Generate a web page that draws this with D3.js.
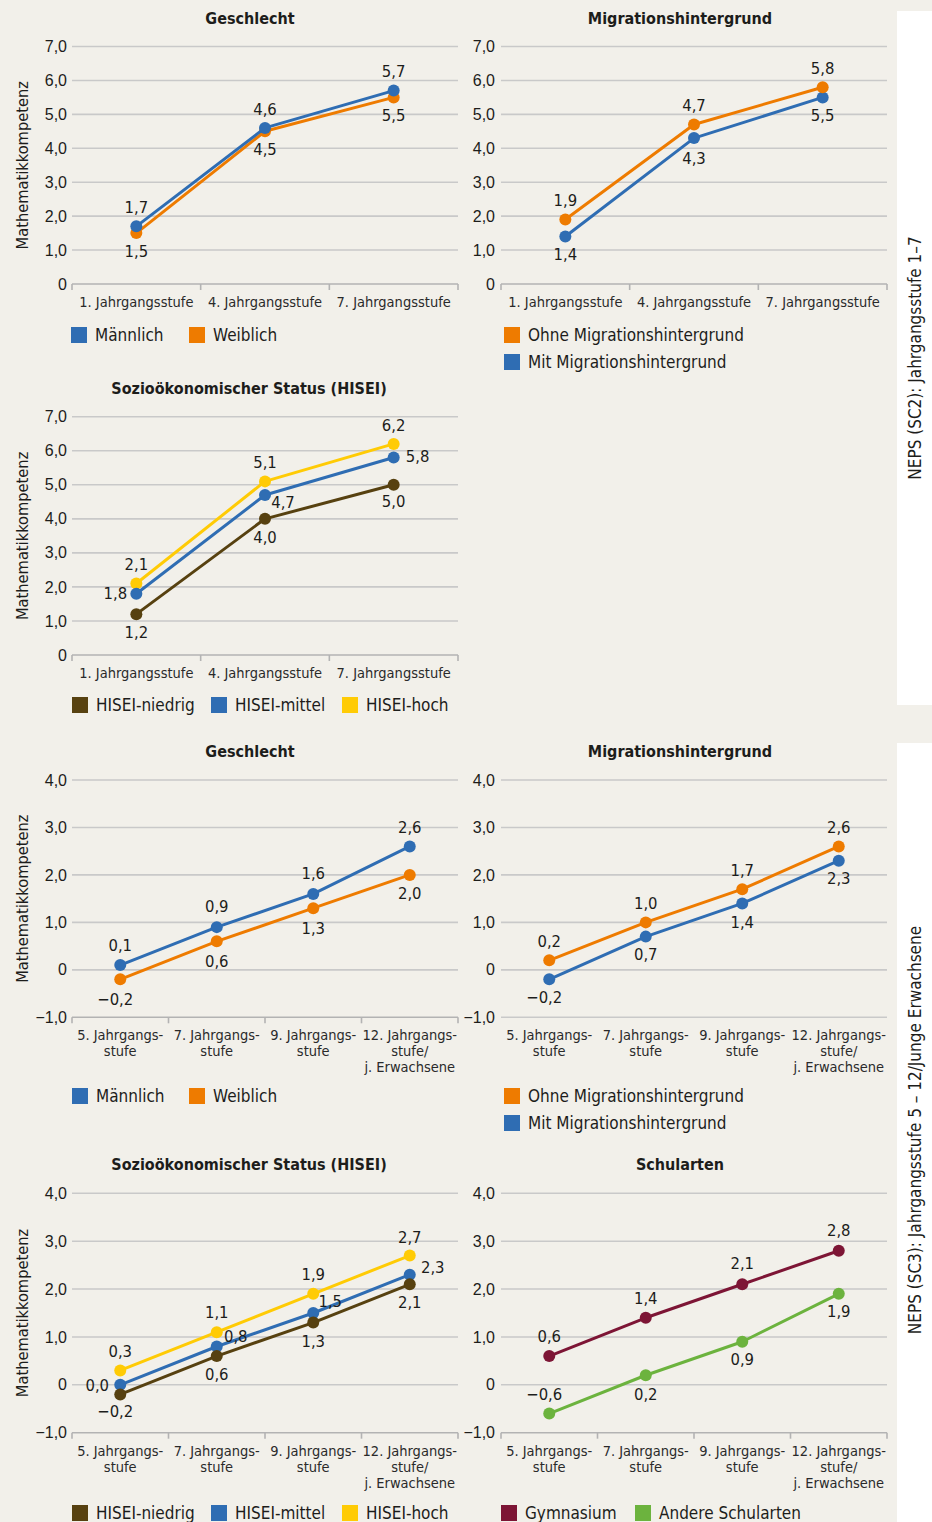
<!DOCTYPE html>
<html>
<head>
<meta charset="utf-8">
<script src="https://cdn.jsdelivr.net/npm/d3@7"></script>
<style>
  body { margin: 0; background: #f2f0ea; }
  svg { display: block; font-family: "Liberation Sans Narrow", "DejaVu Sans Condensed", "Roboto", sans-serif; }
</style>
</head>
<body>
<svg id="chart" width="932" height="1522"></svg>
<script>
// ---- categories and axis ticks ----
const gradesSC2 = ["1. Jahrgangsstufe", "4. Jahrgangsstufe", "7. Jahrgangsstufe"];
const gradesSC3 = [["5. Jahrgangs-", "stufe"], ["7. Jahrgangs-", "stufe"], ["9. Jahrgangs-", "stufe"], ["12. Jahrgangs-", "stufe/", "j. Erwachsene"]];
const ticksSC2 = [0, 1, 2, 3, 4, 5, 6, 7];
const ticksSC3 = [-1, 0, 1, 2, 3, 4];

// ---- series values: NEPS SC2 (Jahrgangsstufe 1–7) ----
const sc2Maennlich = [1.7, 4.6, 5.7];
const sc2Weiblich = [1.5, 4.5, 5.5];
const sc2OhneMig = [1.9, 4.7, 5.8];
const sc2MitMig = [1.4, 4.3, 5.5];
const sc2Niedrig = [1.2, 4.0, 5.0];
const sc2Mittel = [1.8, 4.7, 5.8];
const sc2Hoch = [2.1, 5.1, 6.2];

// ---- series values: NEPS SC3 (Jahrgangsstufe 5 – 12/Junge Erwachsene) ----
const sc3Maennlich = [0.1, 0.9, 1.6, 2.6];
const sc3Weiblich = [-0.2, 0.6, 1.3, 2.0];
const sc3OhneMig = [0.2, 1.0, 1.7, 2.6];
const sc3MitMig = [-0.2, 0.7, 1.4, 2.3];
const sc3Niedrig = [-0.2, 0.6, 1.3, 2.1];
const sc3Mittel = [0.0, 0.8, 1.5, 2.3];
const sc3Hoch = [0.3, 1.1, 1.9, 2.7];
const sc3Gymnasium = [0.6, 1.4, 2.1, 2.8];
const sc3Andere = [-0.6, 0.2, 0.9, 1.9];

// ---- colours ----
const C = {
  blue: "#2f6db3", orange: "#ee7b00", brown: "#574110", yellow: "#ffcb05",
  crimson: "#7d1535", green: "#6cb33e",
  grid: "#c9c9c9", axis: "#b3b3b3", text: "#1d1d1b"
};

// label placement offsets (centre of label relative to the point)
const A = [0, -19], B = [0, 18];

const panels = [
  { title: "Geschlecht", tx: 250, ty: 18, x0: 72, x1: 458, y0: 46.5, y1: 284, domain: [0, 7], ticks: ticksSC2, cats: gradesSC2, axisTicks: true,
    series: [
      { name: "Männlich", values: sc2Maennlich, color: C.blue, labels: [A, A, A] },
      { name: "Weiblich", values: sc2Weiblich, color: C.orange, labels: [B, B, B] }],
    drawOrder: [1, 0], legend: [[71, 335], [189, 335]] },
  { title: "Migrationshintergrund", tx: 680, ty: 18, x0: 501, x1: 887, y0: 46.5, y1: 284, domain: [0, 7], ticks: ticksSC2, cats: gradesSC2, axisTicks: true,
    series: [
      { name: "Ohne Migrationshintergrund", values: sc2OhneMig, color: C.orange, labels: [A, A, A] },
      { name: "Mit Migrationshintergrund", values: sc2MitMig, color: C.blue, labels: [B, [0, 20], B] }],
    drawOrder: [1, 0], legend: [[504, 335], [504, 362]] },
  { title: "Sozioökonomischer Status (HISEI)", tx: 249, ty: 388, x0: 72, x1: 458, y0: 416.7, y1: 655, domain: [0, 7], ticks: ticksSC2, cats: gradesSC2, axisTicks: true,
    series: [
      { name: "HISEI-niedrig", values: sc2Niedrig, color: C.brown, labels: [B, B, [0, 16]] },
      { name: "HISEI-mittel", values: sc2Mittel, color: C.blue, labels: [[-21, 0], [18, 7], [24, -1]] },
      { name: "HISEI-hoch", values: sc2Hoch, color: C.yellow, labels: [A, A, A] }],
    drawOrder: [2, 1, 0], legend: [[72, 705], [211, 705], [342, 705]] },
  { title: "Geschlecht", tx: 250, ty: 751, x0: 72, x1: 458, y0: 780, y1: 1017.3, domain: [-1, 4], ticks: ticksSC3, cats: gradesSC3, axisTicks: true,
    series: [
      { name: "Männlich", values: sc3Maennlich, color: C.blue, labels: [[0, -20], [0, -21], [0, -21], A] },
      { name: "Weiblich", values: sc3Weiblich, color: C.orange, labels: [[-5, 20], [0, 20], [0, 20], B] }],
    drawOrder: [1, 0], legend: [[72, 1096], [189, 1096]] },
  { title: "Migrationshintergrund", tx: 680, ty: 751, x0: 501, x1: 887, y0: 780, y1: 1017.3, domain: [-1, 4], ticks: ticksSC3, cats: gradesSC3, axisTicks: false,
    series: [
      { name: "Ohne Migrationshintergrund", values: sc3OhneMig, color: C.orange, labels: [A, A, A, A] },
      { name: "Mit Migrationshintergrund", values: sc3MitMig, color: C.blue, labels: [[-5, 18], B, [0, 19], B] }],
    drawOrder: [1, 0], legend: [[504, 1096], [504, 1123]] },
  { title: "Sozioökonomischer Status (HISEI)", tx: 249, ty: 1164, x0: 72, x1: 458, y0: 1193.3, y1: 1432.7, domain: [-1, 4], ticks: ticksSC3, cats: gradesSC3, axisTicks: true,
    series: [
      { name: "HISEI-niedrig", values: sc3Niedrig, color: C.brown, labels: [[-5, 17], B, [0, 19], B] },
      { name: "HISEI-mittel", values: sc3Mittel, color: C.blue, labels: [[-23, 0], [19, -10], [17, -12], [23, -7]] },
      { name: "HISEI-hoch", values: sc3Hoch, color: C.yellow, labels: [A, [0, -20], [0, -20], [0, -18]] }],
    drawOrder: [2, 1, 0], legend: [[72, 1513], [211, 1513], [342, 1513]] },
  { title: "Schularten", tx: 680, ty: 1164, x0: 501, x1: 887, y0: 1193.3, y1: 1432.7, domain: [-1, 4], ticks: ticksSC3, cats: gradesSC3, axisTicks: true,
    series: [
      { name: "Gymnasium", values: sc3Gymnasium, color: C.crimson, labels: [[0, -20], [0, -20], [0, -21], [0, -21]] },
      { name: "Andere Schularten", values: sc3Andere, color: C.green, labels: [[-5, -19], [0, 19], [0, 17], [0, 17]] }],
    drawOrder: [0, 1], legend: [[501, 1513], [635, 1513]] }
];

const svg = d3.select("#chart");

// side strips with study labels
const strips = [
  { y0: 11, y1: 705, cy: 358, text: "NEPS (SC2): Jahrgangsstufe 1–7" },
  { y0: 743, y1: 1522, cy: 1130, text: "NEPS (SC3): Jahrgangsstufe 5 – 12/Junge Erwachsene" }
];
strips.forEach(s => {
  svg.append("rect").attr("x", 897).attr("y", s.y0).attr("width", 35).attr("height", s.y1 - s.y0).attr("fill", "#ffffff");
  svg.append("text")
    .attr("transform", `translate(921,${s.cy}) rotate(-90)`)
    .attr("text-anchor", "middle")
    .attr("font-size", 17)
    .attr("fill", C.text)
    .text(s.text);
});

const fmtNum = v => {
  if (v === 0) return "0";
  const s = d3.format(".1f")(Math.abs(v)).replace(".", ",");
  return (v < 0 ? "−" : "") + s;
};
const fmtLabel = v => {
  const s = d3.format(".1f")(Math.abs(v)).replace(".", ",");
  return (v < 0 ? "−" : "") + s;
};

panels.forEach(p => {
  const g = svg.append("g");
  const n = p.cats.length;
  const x = d3.scaleBand().domain(d3.range(n)).range([p.x0, p.x1]).paddingInner(0).paddingOuter(0);
  const y = d3.scaleLinear().domain(p.domain).range([p.y1, p.y0]);

  // title
  g.append("text").attr("x", p.tx).attr("y", p.ty).attr("dy", "0.35em")
    .attr("text-anchor", "middle").attr("font-weight", "bold").attr("font-size", 16)
    .attr("fill", C.text).text(p.title);

  // y axis title
  g.append("text")
    .attr("transform", `translate(22,${(p.y0 + p.y1) / 2}) rotate(-90)`)
    .attr("dy", "0.35em")
    .attr("text-anchor", "middle").attr("font-size", 16.3).attr("fill", C.text)
    .text(p.x0 < 300 ? "Mathematikkompetenz" : "");

  // gridlines
  const minTick = p.ticks[0];
  g.append("g").selectAll("line").data(p.ticks.filter(t => t !== minTick || !p.axisTicks)).join("line")
    .attr("x1", p.x0).attr("x2", p.x1)
    .attr("y1", d => y(d)).attr("y2", d => y(d))
    .attr("stroke", C.grid).attr("stroke-width", 1.6);

  // y tick labels via axis
  const yAxis = d3.axisLeft(y).tickValues(p.ticks).tickFormat(fmtNum).tickSize(0).tickPadding(p.x0 < 300 ? 5 : 6);
  const ya = g.append("g").attr("transform", `translate(${p.x0},0)`).call(yAxis);
  ya.select(".domain").remove();
  ya.selectAll("text").attr("font-size", 16).attr("fill", C.text).attr("font-family", null);

  // bottom axis line with category separators
  if (p.axisTicks) {
    g.append("line").attr("x1", p.x0).attr("x2", p.x1)
      .attr("y1", y(minTick)).attr("y2", y(minTick))
      .attr("stroke", C.axis).attr("stroke-width", 1.6);
    const bounds = d3.range(n + 1).map(i => i < n ? x(i) : p.x1);
    g.append("g").selectAll("line").data(bounds).join("line")
      .attr("x1", d => d).attr("x2", d => d)
      .attr("y1", y(minTick)).attr("y2", y(minTick) + 6)
      .attr("stroke", C.axis).attr("stroke-width", 1.6);
  }

  // category labels
  const cl = g.append("g").selectAll("text").data(p.cats).join("text")
    .attr("x", (d, i) => x(i) + x.bandwidth() / 2)
    .attr("y", p.y1 + 23)
    .attr("text-anchor", "middle").attr("font-size", 14.5).attr("fill", "#2a2a2a");
  cl.each(function (d) {
    const lines = Array.isArray(d) ? d : [d];
    const t = d3.select(this);
    lines.forEach((ln, k) => {
      t.append("tspan").attr("x", t.attr("x")).attr("dy", k === 0 ? 0 : 16).text(ln);
    });
  });

  // series lines, points, labels
  const cx = i => x(i) + x.bandwidth() / 2;
  const line = d3.line().x((d, i) => cx(i)).y(d => y(d));
  p.drawOrder.forEach(si => {
    const s = p.series[si];
    const sg = g.append("g");
    sg.append("path").datum(s.values).attr("d", line)
      .attr("fill", "none").attr("stroke", s.color).attr("stroke-width", 3).attr("stroke-linejoin", "round");
    sg.selectAll("circle").data(s.values).join("circle")
      .attr("cx", (d, i) => cx(i)).attr("cy", d => y(d)).attr("r", 6).attr("fill", s.color);
  });
  p.series.forEach(s => {
    g.append("g").selectAll("text").data(s.values).join("text")
      .attr("x", (d, i) => cx(i) + s.labels[i][0])
      .attr("y", (d, i) => y(d) + s.labels[i][1])
      .attr("dy", "0.35em").attr("text-anchor", "middle")
      .attr("font-size", 16.5).attr("fill", C.text)
      .text(d => fmtLabel(d));
  });

  // legend
  p.series.forEach((s, i) => {
    const [lx, ly] = p.legend[i];
    g.append("rect").attr("x", lx).attr("y", ly - 8).attr("width", 16).attr("height", 16).attr("fill", s.color);
    g.append("text").attr("x", lx + 24).attr("y", ly).attr("dy", "0.35em")
      .attr("font-size", 17).attr("fill", C.text).text(s.name);
  });
});
</script>
</body>
</html>
